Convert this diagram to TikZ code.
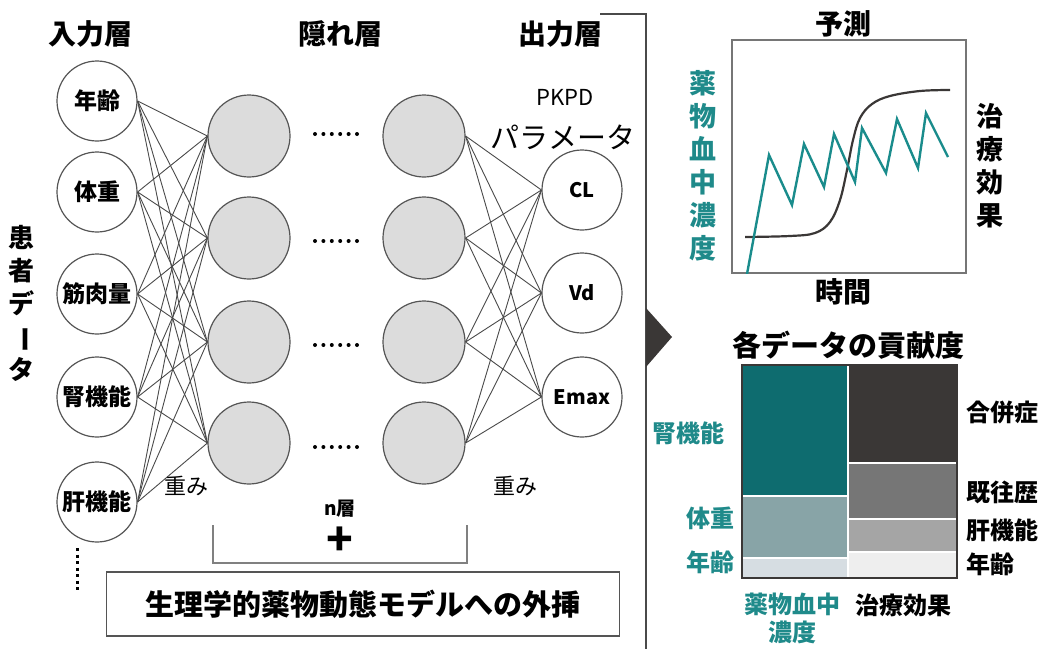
\documentclass[tikz,border=0pt]{standalone}
\usepackage{fontspec}
\setmainfont{Noto Sans CJK JP}
\definecolor{lgray}{HTML}{555555}
\definecolor{hgray}{HTML}{DCDCDC}
\definecolor{cgray}{HTML}{4A4A4A}
\definecolor{tealtxt}{HTML}{1F8A8A}
\definecolor{tealln}{HTML}{1A8C8C}
\definecolor{tdark}{HTML}{0E6C6F}
\definecolor{tmid}{HTML}{88A4A7}
\definecolor{tlight}{HTML}{D6DDE2}
\definecolor{gdark}{HTML}{3A3736}
\definecolor{gmid}{HTML}{767676}
\definecolor{glight}{HTML}{A5A5A5}
\definecolor{gvlight}{HTML}{EEEEEE}
\begin{document}
\begin{tikzpicture}[x=1pt,y=-1pt]
\tikzset{
  inp/.style={circle, draw=lgray, line width=1.2pt, minimum size=80pt, inner sep=0pt, fill=white, font=\bfseries\fontsize{23}{26}\selectfont},
  hid/.style={circle, draw=lgray, fill=hgray, line width=1.2pt, minimum size=82pt, inner sep=0pt},
  outn/.style={inp, font=\bfseries\fontsize{20}{24}\selectfont},
  conn/.style={draw=cgray, line width=0.9pt},
  head/.style={font=\bfseries\fontsize{28}{32}\selectfont},
  lbl/.style={font=\fontsize{22}{26}\selectfont},
  tml/.style={font=\bfseries\fontsize{24}{28}\selectfont, text=tealtxt},
  tmr/.style={font=\bfseries\fontsize{24}{28}\selectfont},
  vtxt/.style={align=center, font=\bfseries\fontsize{27}{33}\selectfont, inner sep=0pt},
}
\useasboundingbox (0,0) rectangle (1043,648);

% headings
\node[head] (hin) at (90,34) {入力層};
\node[head] (hhid) at (340,34) {隠れ層};
\node[head] (hout) at (560,34) {出力層};
\node[font=\fontsize{22}{26}\selectfont] (pkpd) at (565,97) {PKPD};
\node[font=\fontsize{29}{32}\selectfont] (para) at (563,137) {パラメータ};
\node[vtxt, font=\bfseries\fontsize{26}{33}\selectfont] (pat) at (22,303) {患\\者\\デ\\\rotatebox[origin=c]{-90}{ー}\\タ};

% input nodes
\node[inp] (i1) at (97,101) {年齢};
\node[inp] (i2) at (97,192) {体重};
\node[inp] (i3) at (97,294) {筋肉量};
\node[inp] (i4) at (97,397) {腎機能};
\node[inp] (i5) at (97,502) {肝機能};
\coordinate (dtop) at (77,548);
\coordinate (dbot) at (77,590);
\draw[line width=3pt, dash pattern=on 3pt off 3.5pt] (dtop) -- (dbot);

% hidden
\node[hid] (a1) at (249,136) {};
\node[hid] (a2) at (249,238) {};
\node[hid] (a3) at (249,342) {};
\node[hid] (a4) at (249,443) {};
\node[hid] (b1) at (424,136) {};
\node[hid] (b2) at (424,238) {};
\node[hid] (b3) at (424,342) {};
\node[hid] (b4) at (424,443) {};

% outputs
\node[outn] (o1) at (582,190) {CL};
\node[outn] (o2) at (582,293) {Vd};
\node[outn] (o3) at (582,397) {Emax};

% connections
\foreach \i in {1,...,5}{
  \foreach \j in {1,...,4}{
    \draw[conn] (i\i.east) -- (a\j.west);
  }
}
\foreach \i in {1,...,4}{
  \foreach \j in {1,...,3}{
    \draw[conn] (b\i.east) -- (o\j.west);
  }
}
% redraw circles above lines
\foreach \n in {i1,i2,i3,i4,i5}{}

% dotted ellipses between hidden columns
\foreach \y in {134,241,345,447}{
  \foreach \k in {0,...,5}{
    \fill (315+8.4*\k,\y) circle (2pt);
  }
}

\node[lbl] (w1) at (186,486) {重み};
\node[lbl] (w2) at (515,486) {重み};
\node[font=\bfseries\fontsize{19}{22}\selectfont] (nl) at (340,509) {n層};
\node[font=\bfseries\fontsize{44}{44}\selectfont, inner sep=0pt] (plus) at (340,541) {+};
\coordinate (bl1) at (213,525);
\coordinate (bl2) at (213,563);
\coordinate (br2) at (467,563);
\coordinate (br1) at (467,525);
\draw[draw=gray, line width=1.3pt] (bl1) -- (bl2) -- (br2) -- (br1);

\node[draw=lgray, line width=1.3pt, minimum width=513pt, minimum height=64pt, font=\bfseries\fontsize{29}{32}\selectfont] (pbpk) at (363,604) {生理学的薬物動態モデルへの外挿};

% panel bracket and arrow
\coordinate (pt1) at (600,14);
\coordinate (pt2) at (646,14);
\coordinate (pt3) at (646,650);
\draw[draw=cgray, line width=2pt] (pt1) -- (pt2) -- (pt3);
\coordinate (ta) at (646,308);
\coordinate (tb) at (672,337);
\coordinate (tc) at (646,367);
\fill[gdark] (ta) -- (tb) -- (tc) -- cycle;

% prediction chart
\node[head] (pred) at (843,24) {予測};
\node[head] (time) at (843,292) {時間};
\draw[draw=gmid, line width=1.3pt] (732,40) rectangle (966,273);
\node[vtxt, text=tealtxt] (conc) at (703,166) {薬\\物\\血\\中\\濃\\度};
\node[vtxt] (eff) at (990,166) {治\\療\\効\\果};
\begin{scope}
\clip (732,40) rectangle (966,273);
\draw[draw=gdark, line width=2.2pt] plot[smooth, tension=0.6] coordinates {(745,237) (790,236) (815,233) (830,222) (840,200) (847,170) (853,140) (860,118) (872,104) (890,96) (920,91) (950,90)};
\draw[draw=tealln, line width=2.4pt, line join=miter] (747,274) -- (769,155) -- (792,205) -- (804,144) -- (824,187) -- (834,134) -- (855,182) -- (862,128) -- (886,173) -- (897,119) -- (918,168) -- (926,113) -- (948,157);
\end{scope}

% treemap
\node[font=\bfseries\fontsize{29}{32}\selectfont] (ttl) at (848,345) {各データの貢献度};
\begin{scope}[draw=white, line width=1.6pt]
\filldraw[fill=tdark] (742,365) rectangle (848,496);
\filldraw[fill=tmid] (742,496) rectangle (848,558);
\filldraw[fill=tlight] (742,558) rectangle (848,578);
\filldraw[fill=gdark] (848,365) rectangle (957,463);
\filldraw[fill=gmid] (848,463) rectangle (957,519);
\filldraw[fill=glight] (848,519) rectangle (957,552);
\filldraw[fill=gvlight] (848,552) rectangle (957,578);
\end{scope}
\draw[draw=gdark, line width=2.2pt] (742,365) rectangle (957,578);
\node[tml] (l1) at (688,433) {腎機能};
\node[tml] (l2) at (710,518) {体重};
\node[tml] (l3) at (710,562) {年齢};
\node[tmr] (r1) at (1002,412) {合併症};
\node[tmr] (r2) at (1002,492) {既往歴};
\node[tmr] (r3) at (1002,530) {肝機能};
\node[tmr] (r4) at (990,564) {年齢};
\node[tml, align=center, font=\bfseries\fontsize{24}{28}\selectfont] (bx1) at (792,618) {薬物血中\\濃度};
\node[tmr] (bx2) at (903,605) {治療効果};
\end{tikzpicture}
\end{document}
